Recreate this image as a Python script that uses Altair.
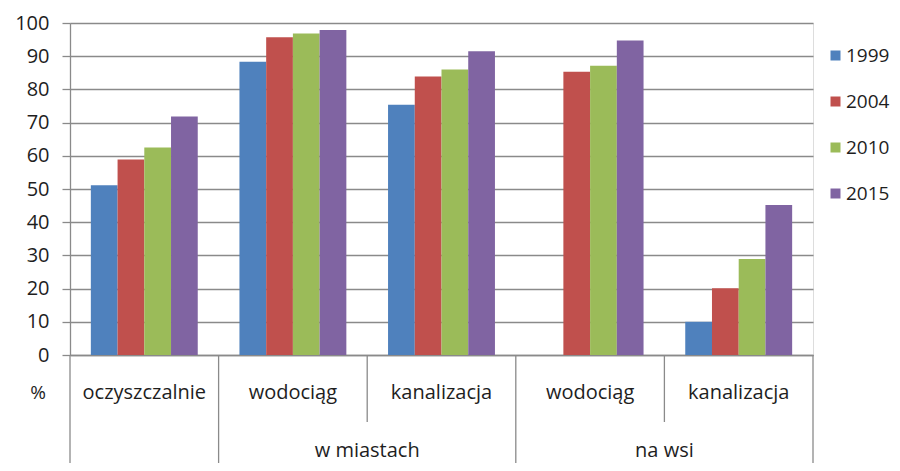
import altair as alt
import pandas as pd

# ---- data ----
categories = ["ocz", "m_wod", "m_kan", "w_wod", "w_kan"]
category_labels = ["oczyszczalnie", "wodociąg", "kanalizacja", "wodociąg", "kanalizacja"]
group_label_at = ["m_kan", "w_kan"]          # group label centered on left edge of these
group_labels = ["w miastach", "na wsi"]
years = ["1999", "2004", "2010", "2015"]
v1999 = [51.1, 88.3, 75.4, None, 10.0]
v2004 = [58.9, 95.7, 83.9, 85.3, 20.1]
v2010 = [62.5, 96.8, 86.0, 87.1, 28.9]
v2015 = [71.8, 97.9, 91.5, 94.7, 45.2]
colors = ["#4F81BD", "#C0504D", "#9BBB59", "#8064A2"]
y_ticks = list(range(0, 101, 10))

# separators below the axis
full_seps_left = ["ocz", "m_wod", "w_wod"]
short_seps_left = ["m_kan", "w_kan"]
full_seps_right = ["w_kan"]

rows = []
for yr, vals in zip(years, [v1999, v2004, v2010, v2015]):
    for c, v in zip(categories, vals):
        if v is not None:
            rows.append({"cat": c, "year": yr, "value": v})
bars_df = pd.DataFrame(rows)

W, H = 743, 332
GRAY = "#8a8a8a"
TXT = "#1e1e1e"
FONT = "Open Sans"

xscale = alt.Scale(domain=categories, paddingInner=0, paddingOuter=0)
xaxis = alt.Axis(labels=False, ticks=False, title=None, grid=False,
                 domain=True, domainColor=GRAY, domainWidth=1.3)

bars = alt.Chart(bars_df).mark_bar().encode(
    x=alt.X("cat:N", scale=xscale, axis=xaxis),
    xOffset=alt.XOffset("year:N", scale=alt.Scale(domain=years, paddingInner=0, paddingOuter=0.78)),
    y=alt.Y("value:Q", scale=alt.Scale(domain=[0, 100], nice=False),
            axis=alt.Axis(values=y_ticks, title=None, grid=True, gridColor=GRAY, gridWidth=1.3,
                          domain=True, domainColor=GRAY, domainWidth=1.3,
                          ticks=True, tickSize=8, tickColor=GRAY, tickWidth=1.3,
                          labelFontSize=20, labelColor=TXT, labelPadding=13, labelFont=FONT)),
    color=alt.Color("year:N", scale=alt.Scale(domain=years, range=colors),
                    legend=alt.Legend(title=None, orient="none", legendX=756, legendY=23,
                                      symbolType="square", symbolSize=100, symbolStrokeWidth=0,
                                      labelFontSize=19, labelFont=FONT, labelColor=TXT,
                                      rowPadding=26, labelOffset=1, padding=0)),
)

rule_full = alt.Chart(pd.DataFrame({"cat": full_seps_left})).mark_rule(color=GRAY, strokeWidth=1.3).encode(
    x=alt.X("cat:N", scale=xscale, axis=xaxis, bandPosition=0),
    y=alt.value(H), y2=alt.value(H + 130),
)
rule_right = alt.Chart(pd.DataFrame({"cat": full_seps_right})).mark_rule(color=GRAY, strokeWidth=1.3).encode(
    x=alt.X("cat:N", scale=xscale, axis=xaxis, bandPosition=1),
    y=alt.value(H), y2=alt.value(H + 130),
)
rule_short = alt.Chart(pd.DataFrame({"cat": short_seps_left})).mark_rule(color=GRAY, strokeWidth=1.3).encode(
    x=alt.X("cat:N", scale=xscale, axis=xaxis, bandPosition=0),
    y=alt.value(H), y2=alt.value(H + 67),
)

cat_text = alt.Chart(pd.DataFrame({"cat": categories, "label": category_labels})).mark_text(
    font=FONT, fontSize=20, color=TXT, baseline="middle", align="center"
).encode(
    x=alt.X("cat:N", scale=xscale, axis=xaxis, bandPosition=0.5),
    y=alt.value(H + 38),
    text="label:N",
)

group_text = alt.Chart(pd.DataFrame({"cat": group_label_at, "label": group_labels})).mark_text(
    font=FONT, fontSize=20, color=TXT, baseline="middle", align="center"
).encode(
    x=alt.X("cat:N", scale=xscale, axis=xaxis, bandPosition=0),
    y=alt.value(H + 96),
    text="label:N",
)

pct_text = alt.Chart(pd.DataFrame({"t": ["%"]})).mark_text(
    font=FONT, fontSize=19, color=TXT, baseline="middle", align="center"
).encode(
    x=alt.value(-32), y=alt.value(H + 38), text="t:N",
)

chart = alt.layer(bars, rule_full, rule_right, rule_short, cat_text, group_text, pct_text).properties(
    width=W, height=H,
    autosize=alt.AutoSizeParams(type="none"),
    padding={"left": 62, "top": 15, "right": 79, "bottom": 108},
).configure_view(strokeWidth=0).configure(font=FONT)

chart.save("out.html", embed_options={"renderer": "svg", "actions": False})
